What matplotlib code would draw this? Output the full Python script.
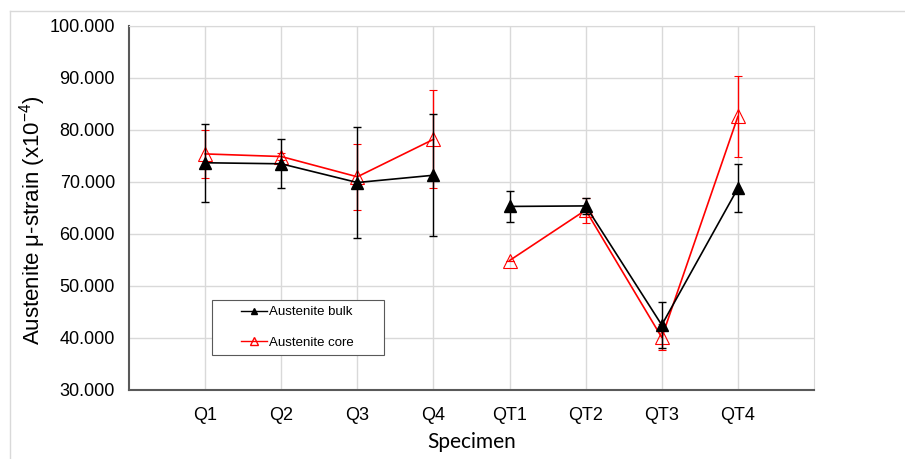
import matplotlib
matplotlib.use("Agg")
import matplotlib.pyplot as plt
from matplotlib.lines import Line2D
from matplotlib.patches import Rectangle
import numpy as np

specimens = ["Q1", "Q2", "Q3", "Q4", "QT1", "QT2", "QT3", "QT4"]
bulk = [73.7, 73.5, 69.9, 71.3, 65.3, 65.4, 42.5, 68.8]
bulk_err = [7.5, 4.7, 10.7, 11.7, 3.0, 1.5, 4.5, 4.6]
core = [75.4, 74.9, 71.0, 78.2, 54.9, 64.6, 40.1, 82.6]
core_err = [4.6, 0.6, 6.3, 9.4, 0.0, 2.4, 2.5, 7.8]

plt.rcParams['font.family'] = ['Liberation Sans', 'DejaVu Sans']

fig = plt.figure(figsize=(9.05, 4.59), dpi=100)
ax = fig.add_axes([129 / 905, 1 - 390 / 459, (814 - 129) / 905, (390 - 26) / 459])

x = np.arange(1, len(specimens) + 1)
groups = [slice(0, 4), slice(4, 8)]

for g in groups:
    ax.errorbar(x[g], bulk[g], yerr=bulk_err[g], color='black', lw=1.2,
                marker='^', markersize=9, markerfacecolor='black',
                capsize=3, elinewidth=1, capthick=1, zorder=4)
    ax.errorbar(x[g], core[g], yerr=core_err[g], color='#ff0000', lw=1.2,
                marker='^', markersize=10, markerfacecolor='none',
                markeredgecolor='#ff0000', markeredgewidth=0.8,
                capsize=3, elinewidth=1, capthick=1, zorder=3)

ax.set_xlim(0, 9)
ax.set_ylim(30, 100)
ax.set_xticks(x)
ax.set_xticklabels(specimens, fontsize=13)
ax.set_yticks(np.arange(30, 101, 10))
ax.set_yticklabels([f"{v:.3f}" for v in range(30, 101, 10)], fontsize=13)
ax.tick_params(length=0, pad=10)
ax.tick_params(axis='x', pad=12)

ax.grid(True, color='#d9d9d9', lw=1)
ax.set_axisbelow(True)
for s in ['top', 'right']:
    ax.spines[s].set_color('#d9d9d9')
for s in ['left', 'bottom']:
    ax.spines[s].set_color('#595959')
    ax.spines[s].set_linewidth(1.5)

ax.set_ylabel(r'Austenite μ-strain (x10$^{\mathregular{-4}}$)', fontsize=16)
ax.yaxis.set_label_coords(-0.118, 0.467)
ax.set_xlabel('Specimen', fontsize=15, family=['Lato', 'DejaVu Sans'])
ax.xaxis.set_label_coords(0.5, -0.115)

# legend box drawn separately so it can be wider than its content
ax.add_patch(Rectangle(((212 - 129) / 685, (390 - 355) / 364), 172 / 685, 55 / 364,
                       transform=ax.transAxes, facecolor='white', edgecolor='#595959',
                       lw=0.8, zorder=6))
handles = [Line2D([], [], color='black', marker='^', markersize=5, lw=1),
           Line2D([], [], color='#ff0000', marker='^', markersize=6,
                  markerfacecolor='none', lw=1)]
leg = ax.legend(handles, ['Austenite bulk', 'Austenite core'],
                loc='upper left', bbox_to_anchor=((241 - 129) / 685, (390 - 306) / 364),
                fontsize=9.5, frameon=False, handlelength=2.0, handletextpad=0.1,
                labelspacing=1.4, borderpad=0, borderaxespad=0)
leg.set_zorder(7)

# outer frame lines
fig.add_artist(Line2D([10 / 905, 10 / 905], [0, 1 - 11 / 459], color='#d9d9d9', lw=1,
                      transform=fig.transFigure))
fig.add_artist(Line2D([10 / 905, 1], [1 - 11 / 459, 1 - 11 / 459], color='#d9d9d9', lw=1,
                      transform=fig.transFigure))

fig.savefig('out.png', dpi=100)
